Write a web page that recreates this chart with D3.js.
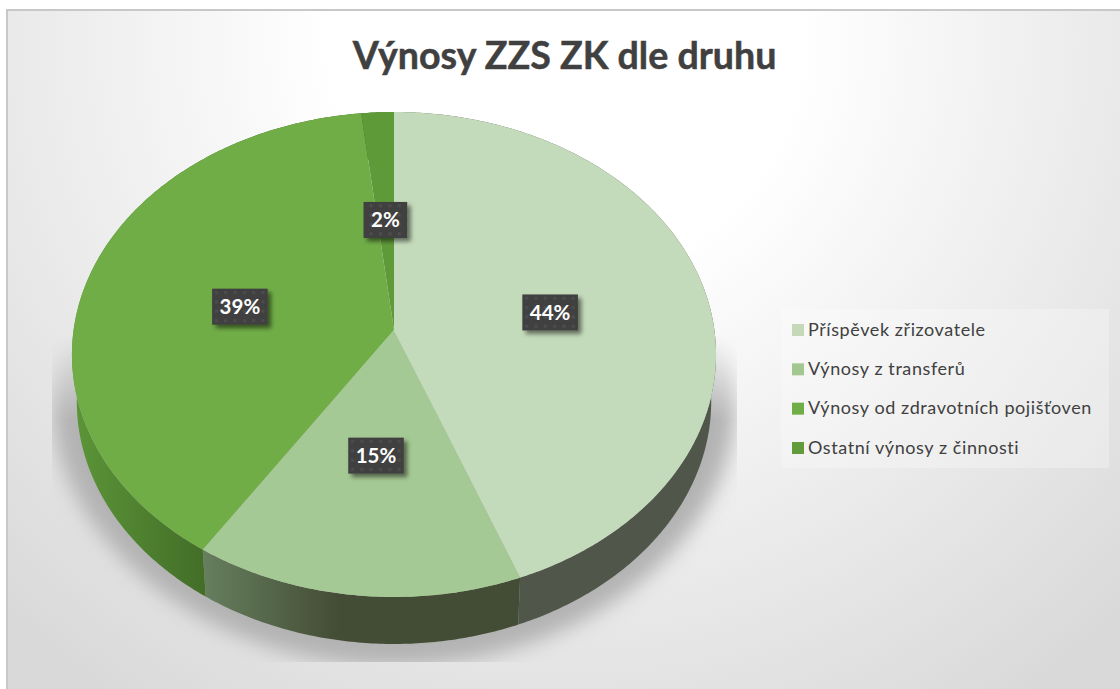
<!DOCTYPE html>
<html>
<head>
<meta charset="utf-8">
<style>
html,body{margin:0;padding:0;background:#fff;overflow:hidden;}
</style>
<script src="https://cdn.jsdelivr.net/npm/d3@7"></script>
</head>
<body>
<div id="chart"></div>
<script>
var categories=["Příspěvek zřizovatele","Výnosy z transferů","Výnosy od zdravotních pojišťoven","Ostatní výnosy z činnosti"];
var shares=[44.2,15.0,39.0,1.8];
var topcolors=["#c4dbbb","#a5c994","#70ad47","#5f9a39"];
var legendcolors=["#c5d9b9","#a2c88f","#70ad47","#639a3c"];
var sidecolors=[["#50574a","#50574a"],["#667f5e","#434c34"],["#5c9638","#436e28"],["#436e28","#436e28"]];
var titletext="Výnosy ZZS ZK dle druhu";

var width=1120,height=689;
var cx=394,cy=330;      //apex of the pie
var rimx=320.4,rimy=240,persp=0.101;   //tilted circle
var depth=47,depthscale=0.985;

var svg=d3.select("#chart").append("svg").attr("width",width).attr("height",height).style("display","block");
var defs=svg.append("defs");

//==================defs=======================
var bg=defs.append("radialGradient").attr("id","bg").attr("gradientUnits","userSpaceOnUse")
	.attr("cx",565).attr("cy",40).attr("r",800);
bg.append("stop").attr("offset",0.29).attr("stop-color","#ffffff");
bg.append("stop").attr("offset",1).attr("stop-color","#d9d9d9");

defs.append("filter").attr("id","shadowblur").attr("x","-10%").attr("y","-10%").attr("width","120%").attr("height","120%")
	.append("feGaussianBlur").attr("stdDeviation",10);

var fade=defs.append("linearGradient").attr("id","shadowfade").attr("gradientUnits","userSpaceOnUse")
	.attr("x1",0).attr("y1",335).attr("x2",0).attr("y2",420);
fade.append("stop").attr("offset",0).attr("stop-color","#000");
fade.append("stop").attr("offset",1).attr("stop-color","#fff");
defs.append("mask").attr("id","shadowmask").attr("maskUnits","userSpaceOnUse")
	.attr("x",0).attr("y",0).attr("width",width).attr("height",height)
	.append("rect").attr("width",width).attr("height",height).attr("fill","url(#shadowfade)");
defs.append("clipPath").attr("id","shadowclip")
	.append("rect").attr("x",52).attr("y",300).attr("width",685).attr("height",362);

var dots=defs.append("pattern").attr("id","dots").attr("patternUnits","userSpaceOnUse")
	.attr("width",9.33).attr("height",9.33);
dots.append("rect").attr("width",9.33).attr("height",9.33).attr("fill","#3f3f3f");
dots.append("rect").attr("x",3).attr("y",3).attr("width",3).attr("height",3).attr("fill","#4e4e4e");

var boxshadow=defs.append("filter").attr("id","boxshadow").attr("x","-30%").attr("y","-30%").attr("width","170%").attr("height","170%");
boxshadow.append("feDropShadow").attr("dx",3.5).attr("dy",3.5).attr("stdDeviation",2.2)
	.attr("flood-color","#000").attr("flood-opacity",0.5);

//==================background=======================
svg.append("rect").attr("x",7).attr("y",10).attr("width",width+20).attr("height",height+20)
	.attr("fill","url(#bg)").attr("stroke","#c8c8c8").attr("stroke-width",2);

//==================geometry=======================
function rimpoint(a,t){
	var u=Math.sin(a)*t,v=Math.cos(a)*t;
	var w=1+persp*v;
	return [cx+rimx*u/w,cy-rimy*v/w];
}
function lowpoint(a){
	var p=rimpoint(a,1);
	return [cx+(p[0]-cx)*depthscale,p[1]+depth];
}
function steps(a0,a1){
	var n=Math.max(2,Math.ceil((a1-a0)/0.01));
	return d3.range(n+1).map(function(i){return a0+(a1-a0)*i/n;});
}
var line=d3.line();

var pie=d3.pie().sort(null).value(function(d){return d;});
var arcs=pie(shares);
var total=d3.sum(shares);
var pctformat=d3.format(".0f");

//==================draw shadow=======================
//wide at the sides, narrowing towards the bottom
var shadowpts=steps(0,2*Math.PI).map(function(a){
	var p=lowpoint(a);
	return [cx+(p[0]-cx)*(1.08+0.08*Math.cos(a)),p[1]+22];
});
svg.append("g").attr("clip-path","url(#shadowclip)")
	.append("g").attr("mask","url(#shadowmask)")
	.append("path").attr("d",line(shadowpts)+"Z").attr("fill","#b2b2b2").attr("filter","url(#shadowblur)");

//==================draw sides=======================
var sides=svg.append("g").attr("class","sides");
arcs.forEach(function(d,i){
	var as=steps(d.startAngle,d.endAngle);
	var toprim=as.map(function(a){return rimpoint(a,1);});
	var lowrim=as.map(lowpoint).reverse();
	var gid="side"+i;
	var xs=toprim.filter(function(p,k){return as[k]>Math.PI/2&&as[k]<Math.PI*1.5;}).map(function(p){return p[0];});
	var ext=xs.length?d3.extent(xs):[0,1];
	var g=defs.append("linearGradient").attr("id",gid).attr("gradientUnits","userSpaceOnUse")
		.attr("x1",i==2?72:ext[0]).attr("y1",0).attr("x2",i==1?340:ext[1]).attr("y2",0);
	g.append("stop").attr("offset",0).attr("stop-color",sidecolors[i][0]);
	g.append("stop").attr("offset",1).attr("stop-color",sidecolors[i][1]);
	sides.append("path").attr("d",line(toprim.concat(lowrim))+"Z").attr("fill","url(#"+gid+")");
});

//==================draw top=======================
var tops=svg.append("g").attr("class","tops");
tops.selectAll("path").data(arcs).enter().append("path")
	.attr("d",function(d){
		var pts=steps(d.startAngle,d.endAngle).map(function(a){return rimpoint(a,1);});
		pts.unshift([cx,cy]);
		return line(pts)+"Z";
	})
	.attr("fill",function(d,i){return topcolors[i];});

//==================labels=======================
var labels=svg.append("g").attr("class","labels").selectAll("g").data(arcs).enter().append("g")
	.attr("transform",function(d){
		var p=rimpoint((d.startAngle+d.endAngle)/2,0.5);
		return "translate("+p[0]+","+(p[1]+(d.index==1?0:4))+")";
	});
var boxes=labels.append("rect").attr("fill","url(#dots)").attr("filter","url(#boxshadow)");
var ltext=labels.append("text").attr("text-anchor","middle").attr("y",7.5)
	.attr("font-family","Lato").attr("font-weight",700).attr("font-size",20.5).attr("fill","#ffffff")
	.text(function(d){return pctformat(d.data/total*100)+"%";});
ltext.each(function(d,i){
	var w=this.getComputedTextLength()+15;
	d3.select(boxes.nodes()[i]).attr("x",-w/2).attr("y",-18).attr("width",w).attr("height",36);
});

//==================title=======================
svg.append("text").attr("x",564.5).attr("y",69).attr("text-anchor","middle")
	.attr("font-family","Lato").attr("font-weight",700).attr("font-size",37.6).attr("fill","#404040")
	.attr("stroke","#404040").attr("stroke-width",0.5)
	.text(titletext);

//==================legend=======================
var legendy=d3.scalePoint().domain(categories).range([330,448]);
svg.append("rect").attr("x",781).attr("y",309).attr("width",328).attr("height",159)
	.attr("fill","#ffffff").attr("fill-opacity",0.28);
var legend=svg.append("g").attr("class","legend").selectAll("g").data(categories).enter().append("g")
	.attr("transform",function(d){return "translate(792,"+legendy(d)+")";});
legend.append("rect").attr("x",0).attr("y",-6).attr("width",12).attr("height",12)
	.attr("fill",function(d,i){return legendcolors[i];});
legend.append("text").attr("x",16).attr("y",5.5)
	.attr("font-family","Lato").attr("font-size",18).attr("fill","#404040").attr("letter-spacing",0.58)
	.text(function(d){return d;});
</script>
</body>
</html>
